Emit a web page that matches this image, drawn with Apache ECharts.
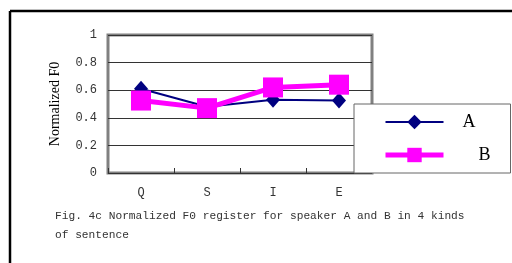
<!DOCTYPE html>
<html>
  <head>
    <meta charset="utf-8" />
    <script src="https://cdn.jsdelivr.net/npm/echarts@6/dist/echarts.min.js"></script>
  </head>
  <body style="margin:0;background:#fff;">
    <div id="main" style="width: 512px;height:263px;"></div>
    <script type="text/javascript">
      var myChart = echarts.init(document.getElementById('main'));

      // sentence kinds
      var categories = ['Q', 'S', 'I', 'E'];
      // normalized F0 per speaker
      var speakerA = [0.61, 0.48, 0.53, 0.525];
      var speakerB = [0.525, 0.47, 0.62, 0.64];
      var yTicks = [0, 0.2, 0.4, 0.6, 0.8, 1];

      var monoFont = '"Liberation Mono", monospace';
      var serifFont = '"Liberation Serif", serif';

      option = {
        animation: false,
        title: {
          text: 'Fig. 4c Normalized F0 register for speaker A and B in 4 kinds\nof sentence',
          left: 55,
          top: 207,
          padding: 0,
          textStyle: {
            fontFamily: monoFont,
            fontSize: 11.2,
            fontWeight: 'normal',
            color: '#333',
            lineHeight: 19
          }
        },
        graphic: [
          { type: 'line', shape: { x1: 10, y1: 11, x2: 512, y2: 11 }, style: { stroke: '#000', lineWidth: 2.5 } },
          { type: 'line', shape: { x1: 10, y1: 11, x2: 10, y2: 263 }, style: { stroke: '#000', lineWidth: 2.5 } }
        ],
        grid: {
          left: 108,
          right: 140,
          top: 35,
          bottom: 90,
          show: true,
          borderColor: '#808080',
          borderWidth: 3,
          backgroundColor: '#fff'
        },
        legend: {
          orient: 'vertical',
          left: 354,
          top: 104,
          backgroundColor: '#fff',
          borderColor: '#666',
          borderWidth: 1,
          borderRadius: 0,
          padding: [9, 20, 9, 29],
          itemWidth: 58,
          itemHeight: 18,
          itemGap: 15,
          textStyle: { fontFamily: serifFont, fontSize: 18, color: '#000' },
          data: [
            { name: 'A', textStyle: { padding: [0, 0, 0, 14] }, lineStyle: { width: 2 } },
            { name: 'B', textStyle: { padding: [0, 0, 0, 30] }, lineStyle: { width: 5 } }
          ]
        },
        xAxis: {
          type: 'category',
          data: categories,
          axisLine: { show: false },
          axisTick: { show: true, inside: true, length: 5, lineStyle: { color: '#333' } },
          axisLabel: { fontFamily: monoFont, fontSize: 12, color: '#333', margin: 14 }
        },
        yAxis: {
          type: 'value',
          min: yTicks[0],
          max: yTicks[yTicks.length - 1],
          interval: 0.2,
          name: 'Normalized F0',
          nameLocation: 'middle',
          nameGap: 46,
          nameTextStyle: { fontFamily: serifFont, fontSize: 14, color: '#000' },
          axisLine: { show: false },
          axisTick: { show: false },
          axisLabel: { fontFamily: monoFont, fontSize: 12, color: '#333', margin: 11 },
          splitLine: { lineStyle: { color: '#333', width: 1 } }
        },
        series: [
          {
            name: 'A',
            type: 'line',
            data: speakerA,
            symbol: 'diamond',
            symbolSize: [14, 16],
            lineStyle: { color: '#000080', width: 2 },
            itemStyle: { color: '#000080' }
          },
          {
            name: 'B',
            type: 'line',
            data: speakerB,
            symbol: 'rect',
            symbolSize: 20,
            lineStyle: { color: '#ff00ff', width: 5 },
            itemStyle: { color: '#ff00ff' }
          }
        ]
      };

      myChart.setOption(option);
    </script>
  </body>
</html>
